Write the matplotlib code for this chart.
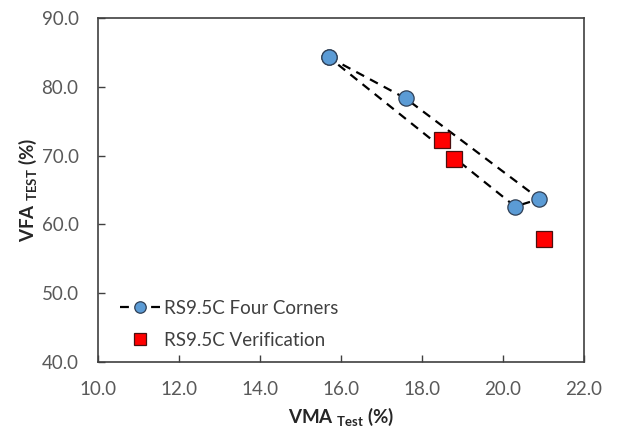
import matplotlib
matplotlib.use("Agg")
import matplotlib.pyplot as plt

# Four-corner mix points (closed loop order) and verification mixes
corner_vma = [15.7, 17.6, 20.9, 20.3, 15.7]
corner_vfa = [84.3, 78.3, 63.7, 62.6, 84.3]
verif_vma = [18.5, 18.8, 21.0]
verif_vfa = [72.3, 69.5, 57.9]

x_ticks = [10.0, 12.0, 14.0, 16.0, 18.0, 20.0, 22.0]
y_ticks = [40.0, 50.0, 60.0, 70.0, 80.0, 90.0]

plt.rcParams['font.family'] = ['Lato', 'DejaVu Sans']

fig = plt.figure(figsize=(6.36, 4.36), dpi=100)
ax = fig.add_axes([98 / 636, 1 - 362 / 436, (584 - 98) / 636, (362 - 18) / 436])

ax.plot(corner_vma, corner_vfa, linestyle=(0, (4, 3)), color='black', lw=1.6,
        marker='o', markersize=11, markerfacecolor='#5B9BD5',
        markeredgecolor='#2F3F55', markeredgewidth=0.9,
        label='RS9.5C Four Corners', zorder=3)
ax.plot(verif_vma, verif_vfa, linestyle='none', marker='s', markersize=11,
        markerfacecolor='#FF0000', markeredgecolor='#4A1010',
        markeredgewidth=0.9, label='RS9.5C Verification', zorder=4)

ax.set_xlim(10, 22)
ax.set_ylim(40, 90)
ax.set_xticks(x_ticks)
ax.set_yticks(y_ticks)
ax.set_xticklabels([f"{v:.1f}" for v in x_ticks])
ax.set_yticklabels([f"{v:.1f}" for v in y_ticks])
ax.tick_params(direction='in', length=5, width=1, colors='#404040',
               labelcolor='#595959', labelsize=13.5)
ax.tick_params(axis='x', pad=14)
ax.tick_params(axis='y', pad=14)
for s in ax.spines.values():
    s.set_color('#404040')
    s.set_linewidth(1.2)

ax.set_xlabel(r'VMA $_{\mathregular{Test}}$ (%)', fontsize=13.5, fontweight='bold',
              color='#262626', labelpad=5)
ax.set_ylabel(r'VFA $_{\mathregular{TEST}}$ (%)', fontsize=13.5, fontweight='bold',
              color='#262626', labelpad=2)

leg = ax.legend(loc='lower left', bbox_to_anchor=(0.045, 0.038), frameon=False,
                fontsize=13.5, handlelength=2.2, handletextpad=0.15,
                labelspacing=0.8, markerscale=0.75, borderpad=0,
                borderaxespad=0, labelcolor='#404040')

fig.savefig('out.png', dpi=100)
